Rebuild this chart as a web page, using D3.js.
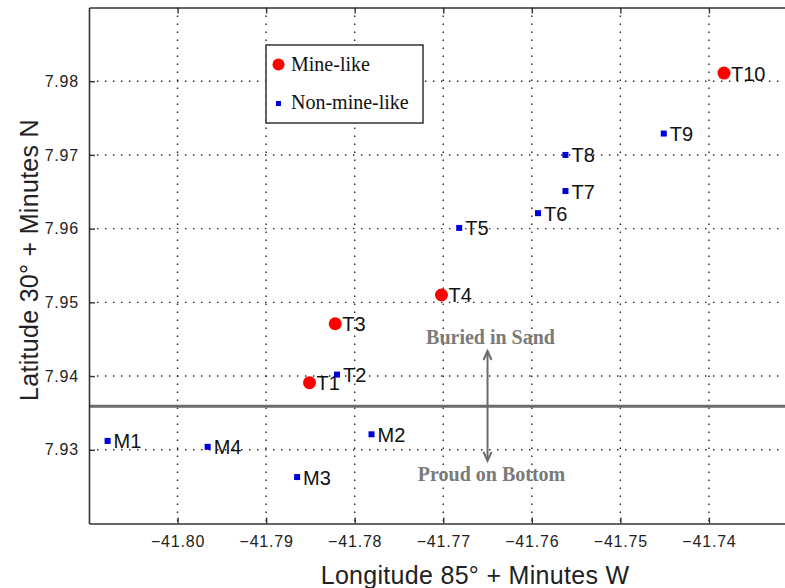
<!DOCTYPE html>
<html>
<head>
<meta charset="utf-8">
<script src="https://cdn.jsdelivr.net/npm/d3@7"></script>
<style>
  body { margin: 0; background: #fff; }
  .tick text { font-family: "Liberation Sans", Arial, sans-serif; font-size: 16px; letter-spacing: 0.8px; fill: #222; }
  .pt-label { font-family: "Liberation Sans", Arial, sans-serif; font-size: 20px; fill: #111; }
  .axis-title { font-family: "Liberation Sans", Arial, sans-serif; font-size: 25px; letter-spacing: 0.3px; fill: #222; }
  .legend text { font-family: "Liberation Serif", "Times New Roman", serif; font-size: 20px; fill: #111; }
  .note { font-family: "Liberation Serif", "Times New Roman", serif; font-size: 20px; font-weight: bold; fill: #7a7a7a; text-anchor: middle; }
</style>
</head>
<body>
<div id="chart"></div>
<script>
// target positions
var labels = ["M1", "M2", "M3", "M4", "T1", "T2", "T3", "T4", "T5", "T6", "T7", "T8", "T9", "T10"];
var lon = [-41.8079, -41.7781, -41.7865, -41.7966, -41.7851, -41.7820, -41.7822, -41.7702, -41.7682, -41.7593, -41.7562, -41.7562, -41.7451, -41.7383];
var lat = [7.9312, 7.9321, 7.9263, 7.9304, 7.9391, 7.9402, 7.9471, 7.9510, 7.9601, 7.9621, 7.9651, 7.9700, 7.9729, 7.9811];
var mineLike = [false, false, false, false, true, false, true, true, false, false, false, false, false, true];

var xTicks = [-41.80, -41.79, -41.78, -41.77, -41.76, -41.75, -41.74];
var yTicks = [7.93, 7.94, 7.95, 7.96, 7.97, 7.98];

var boundaryLat = 7.9359;
var arrowLon = -41.765;
var arrowLat = [7.9434, 7.9285];

var W = 785, H = 588;

let svg = d3.select('#chart').append('svg')
  .attr('width', W)
  .attr('height', H);

let x = d3.scaleLinear().domain([-41.81, -41.73]).range([89, 797.5]);
let y = d3.scaleLinear().domain([7.92, 7.99]).range([523.5, 7.5]);

let pLeft = x(-41.81), pTop = y(7.99), pBottom = y(7.92), pRight = x(-41.73);

svg.append('clipPath').attr('id', 'plot-clip')
  .append('rect')
  .attr('x', pLeft).attr('y', pTop)
  .attr('width', pRight - pLeft).attr('height', pBottom - pTop);

let plot = svg.append('g').attr('clip-path', 'url(#plot-clip)');

// dotted grid
plot.selectAll('.vgrid').data(xTicks).enter()
  .append('line').attr('class', 'vgrid')
  .attr('x1', d => x(d)).attr('x2', d => x(d))
  .attr('y1', pTop).attr('y2', pBottom)
  .attr('stroke', '#222').attr('stroke-width', 1.4)
  .attr('stroke-dasharray', '1.4,6.6');
plot.selectAll('.hgrid').data(yTicks).enter()
  .append('line').attr('class', 'hgrid')
  .attr('x1', pLeft).attr('x2', pRight)
  .attr('y1', d => y(d)).attr('y2', d => y(d))
  .attr('stroke', '#222').attr('stroke-width', 1.4)
  .attr('stroke-dasharray', '1.4,6.6');

// sand / bottom boundary
plot.append('line')
  .attr('x1', pLeft).attr('x2', pRight)
  .attr('y1', y(boundaryLat)).attr('y2', y(boundaryLat))
  .attr('stroke', '#6b6b6b').attr('stroke-width', 3);

// double arrow
let ax = x(arrowLon), ay1 = y(arrowLat[0]), ay2 = y(arrowLat[1]);
plot.append('line')
  .attr('x1', ax).attr('x2', ax).attr('y1', ay1).attr('y2', ay2)
  .attr('stroke', '#6b6b6b').attr('stroke-width', 2);
plot.append('path')
  .attr('d', `M${ax - 4},${ay1 + 9}L${ax},${ay1}L${ax + 4},${ay1 + 9}`)
  .attr('fill', 'none').attr('stroke', '#6b6b6b').attr('stroke-width', 2);
plot.append('path')
  .attr('d', `M${ax - 4},${ay2 - 9}L${ax},${ay2}L${ax + 4},${ay2 - 9}`)
  .attr('fill', 'none').attr('stroke', '#6b6b6b').attr('stroke-width', 2);

plot.append('text').attr('class', 'note')
  .attr('x', ax + 3).attr('y', ay1 - 7)
  .text('Buried in Sand');
plot.append('text').attr('class', 'note')
  .attr('x', ax + 4).attr('y', ay2 + 20)
  .text('Proud on Bottom');

// points
let idx = d3.range(labels.length);
let pts = plot.selectAll('.pt').data(idx).enter().append('g').attr('class', 'pt');

pts.filter(i => mineLike[i]).append('circle')
  .attr('cx', i => x(lon[i])).attr('cy', i => y(lat[i]))
  .attr('r', 6.5).attr('fill', '#ff0000');
pts.filter(i => !mineLike[i]).append('rect')
  .attr('x', i => x(lon[i]) - 3).attr('y', i => y(lat[i]) - 3)
  .attr('width', 6).attr('height', 6).attr('fill', '#0000dd');

pts.append('text').attr('class', 'pt-label')
  .attr('x', i => x(lon[i]) + (mineLike[i] ? 7 : 6))
  .attr('y', i => y(lat[i]) + 7.5)
  .text(i => labels[i]);

// axes with inward ticks
let xAxis = d3.axisBottom(x).tickValues(xTicks).tickFormat(d3.format('.2f'))
  .tickSizeInner(-6).tickSizeOuter(0).tickPadding(12);
let yAxis = d3.axisLeft(y).tickValues(yTicks).tickFormat(d3.format('.2f'))
  .tickSizeInner(-6).tickSizeOuter(0).tickPadding(10);
let xTop = d3.axisTop(x).tickValues(xTicks).tickFormat('')
  .tickSizeInner(-6).tickSizeOuter(0);

let gx = svg.append('g').attr('transform', `translate(0,${pBottom})`).call(xAxis);
let gy = svg.append('g').attr('transform', `translate(${pLeft},0)`).call(yAxis);
let gt = svg.append('g').attr('transform', `translate(0,${pTop})`).call(xTop);
[gx, gy, gt].forEach(g => {
  g.select('.domain').attr('stroke', '#333').attr('stroke-width', 1.6);
  g.selectAll('.tick line').attr('stroke', '#333').attr('stroke-width', 1.4);
});

// legend
let legend = svg.append('g').attr('class', 'legend');
legend.append('rect')
  .attr('x', 266).attr('y', 45).attr('width', 157).attr('height', 78)
  .attr('fill', '#fff').attr('stroke', '#333').attr('stroke-width', 1.5);
legend.append('circle').attr('cx', 278.5).attr('cy', 64.5).attr('r', 6).attr('fill', '#ff0000');
legend.append('text').attr('x', 291).attr('y', 71).text('Mine-like');
legend.append('rect').attr('x', 276).attr('y', 101).attr('width', 5).attr('height', 5).attr('fill', '#0000dd');
legend.append('text').attr('x', 291).attr('y', 109).text('Non-mine-like');

// axis titles
svg.append('text').attr('class', 'axis-title')
  .attr('text-anchor', 'middle')
  .attr('x', 475).attr('y', 584)
  .text('Longitude 85° + Minutes W');
svg.append('text').attr('class', 'axis-title')
  .attr('text-anchor', 'middle')
  .attr('transform', 'translate(38,260) rotate(-90)')
  .text('Latitude 30° + Minutes N');
</script>
</body>
</html>
